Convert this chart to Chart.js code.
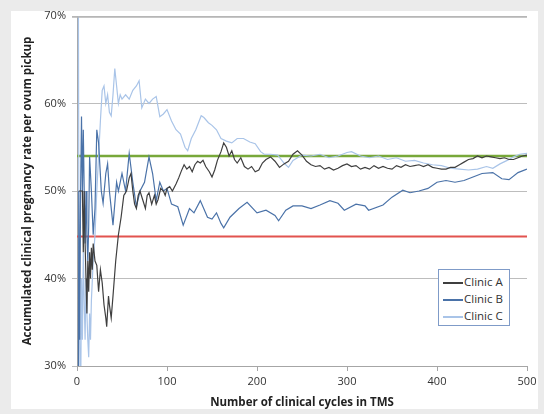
<!DOCTYPE html>
<html>
<head>
<meta charset="utf-8">
<script src="https://cdn.jsdelivr.net/npm/chart.js@4"></script>
<style>
  html, body { margin: 0; padding: 0; background: #ebebeb; }
  #frame { position: absolute; left: 11px; top: 11px; width: 527px; height: 398px; background: #fff; }
  #wrap { position: absolute; left: 0; top: 0; width: 544px; height: 414px; }
  #legend {
    position: absolute; left: 438px; top: 269px; width: 72px; height: 57px;
    border: 1px solid #7f9bc8; background: #fff; box-sizing: border-box;
    font-family: "Open Sans", sans-serif; font-size: 11.5px; color: #333;
    padding-top: 3px;
  }
  #legend div { height: 17px; line-height: 17px; white-space: nowrap; }
  #legend span.line { display: inline-block; width: 20px; height: 0; vertical-align: middle; margin: 0 1px 0 4px; }
</style>
</head>
<body>
<div id="frame"></div>
<div id="wrap"><canvas id="chart" width="544" height="414"></canvas></div>
<div id="legend"></div>
<script>
const seriesLabels = ['Clinic A', 'Clinic B', 'Clinic C'];
const seriesColors = ['#3f3f3f', '#4a72a8', '#a9c4e8'];

const clinicACycles = [2,4,6,7,8,9,10,11,12,13,14,15,16,17,18,20,22,24,26,28,30,32,33,35,36,38,40,43,46,49,52,55,58,60,62,64,66,68,70,73,76,78,80,83,86,88,90,93,96,98,100,103,106,110,113,116,119,122,125,128,131,134,137,140,143,147,150,153,156,160,163,166,169,172,175,178,182,186,190,194,198,202,206,210,215,220,225,230,235,240,245,250,255,260,265,270,275,280,285,290,295,300,305,310,315,320,325,330,335,340,345,350,355,360,365,370,375,380,385,390,395,400,405,410,415,420,425,430,435,440,445,450,455,460,465,470,475,480,485,490,495,500];
const clinicARate = [50,50,50,43,50,44,40,36,42,38.5,43,40,43.5,41,44,42,41.5,38.5,41,39.5,37,35.5,34.5,38,37,35.5,38,42,45,47,49.5,50,51.5,52,50,48.5,48,49.5,50,49,48,49.5,49.8,48.5,49.5,48.5,49,50.3,50,49.5,50.3,50.5,50,50.8,51.5,52.3,53,52.5,52.8,52.2,53,53.4,53.2,53.5,52.8,52.2,51.6,52.4,53.5,54.5,55.5,55,54,54.6,53.6,53.2,53.8,52.8,52.5,52.8,52.2,52.4,53.2,53.6,53.9,53.4,52.7,53.1,53.4,54.2,54.6,54.1,53.4,53,52.8,52.9,52.5,52.7,52.4,52.6,52.9,53.1,52.8,52.9,52.5,52.7,52.5,52.9,52.6,52.8,52.6,52.5,52.9,52.7,53,52.8,52.9,53,52.8,53,52.7,52.6,52.5,52.5,52.7,52.7,53,53.3,53.6,53.7,54,53.8,54,53.9,53.8,53.7,53.8,53.6,53.6,53.8,54,54.1];

const clinicBCycles = [1,2,3,4,5,6,7,8,9,10,11,12,13,14,16,18,20,22,24,27,29,32,34,36,40,44,46,50,54,58,62,66,70,75,80,84,88,92,96,100,105,112,118,125,130,137,145,150,155,160,163,170,180,189,200,210,220,224,232,240,250,260,270,281,290,297,310,320,324,340,350,362,370,380,390,400,410,420,430,440,450,462,472,480,490,500];
const clinicBRate = [0,50,33,50,58.5,50,57,50,44,50,45,42,46,53.9,50,45,48,57,55.5,50,48.6,52,53.1,50,46.1,51,50,52,50,54.3,51,48.2,50,51,53.9,52,48.9,51,50,50.3,48.5,48.2,46.1,48,47.5,48.9,47,46.8,47.5,46.3,45.8,47,48,48.7,47.5,47.8,47.2,46.6,47.8,48.3,48.3,48,48.4,48.9,48.6,47.8,48.5,48.3,47.8,48.4,49.3,50.1,49.8,50,50.3,51,51.2,51,51.2,51.6,52,52.1,51.4,51.3,52.1,52.5];

const clinicCCycles = [1,2,3,4,5,6,7,8,9,10,11,12,13,14,15,16,18,20,22,24,26,28,30,32,34,36,38,40,42,44,46,48,50,54,58,62,66,69,72,76,80,84,88,92,96,100,105,110,115,120,123,127,132,138,141,146,150,155,160,166,172,178,185,192,198,204,208,215,223,230,235,240,245,250,260,270,280,290,300,305,315,325,335,345,355,365,375,385,395,405,415,425,435,445,455,462,470,478,485,492,500];
const clinicCRate = [100,50,33,25,40,33,43,37.5,33,40,36,33,31,36,33,37.5,42,45,50,54,58,61.5,62,60,61,59,58.6,61,64,62,60,61,60.5,61,60.5,61.5,62,62.6,59.5,60.5,60,60.5,60.8,58.5,58.8,59.3,58,57,56.5,55,54.6,56,57,58.6,58.4,57.8,57.5,57,56,55.7,55.5,56,56,55.6,55.4,54.5,54.2,54.2,54.1,53.2,52.7,53.5,53.8,54.1,54,54.2,53.8,54,54.4,54.5,54,53.8,54,53.6,53.8,53.4,53.5,53.2,53,52.9,52.6,52.5,52.4,52.5,52.8,52.6,53.1,53.5,53.9,54.2,54.3];

const targetRate = 54;
const thresholdRate = 44.8;
const xRange = [0, 500];

const xTickStep = 100;
const yTicks = [30, 40, 50, 60, 70];

function pairs(xs, ys) {
  return xs.map((x, i) => ({ x: x, y: ys[i] }));
}

const clinicData = [
  pairs(clinicACycles, clinicARate),
  pairs(clinicBCycles, clinicBRate),
  pairs(clinicCCycles, clinicCRate)
];

const datasets = clinicData.map((d, i) => ({
  label: seriesLabels[i],
  data: d,
  borderColor: seriesColors[i],
  borderWidth: 1.2,
  pointRadius: 0,
  tension: 0,
  fill: false
}));

datasets.push({
  label: 'target',
  data: [{ x: xRange[0], y: targetRate }, { x: xRange[1], y: targetRate }],
  borderColor: '#78a83a',
  borderWidth: 2.5,
  pointRadius: 0
});
datasets.push({
  label: 'threshold',
  data: [{ x: xRange[0], y: thresholdRate }, { x: xRange[1], y: thresholdRate }],
  borderColor: '#e2534f',
  borderWidth: 2,
  pointRadius: 0
});

const gridColor = '#bdbdbd';
const tickFont = { family: '"Open Sans", sans-serif', size: 11 };
const titleFont = { family: '"Open Sans", sans-serif', size: 11.5, weight: 'bold' };

// the top (70%) gridline sits on the chart edge, draw it explicitly
const topGridline = {
  id: 'topGridline',
  afterDraw(chart) {
    const y = chart.scales.y;
    const py = Math.round(y.getPixelForValue(y.max)) + 1;
    const c = chart.ctx;
    c.save();
    c.strokeStyle = '#b4b4b4';
    c.lineWidth = 1.5;
    c.beginPath();
    c.moveTo(chart.chartArea.left - 5, py);
    c.lineTo(chart.chartArea.right, py);
    c.stroke();
    c.restore();
  }
};

const chart = new Chart(document.getElementById('chart'), {
  type: 'line',
  data: { datasets: datasets },
  plugins: [topGridline],
  options: {
    responsive: false,
    animation: false,
    devicePixelRatio: 1,
    layout: { padding: { left: 21, top: 16, right: 17, bottom: 4 } },
    plugins: {
      legend: { display: false },
      tooltip: { enabled: false }
    },
    scales: {
      x: {
        type: 'linear',
        min: xRange[0],
        max: xRange[1],
        afterFit: s => { s.height = 44; },
        ticks: { stepSize: xTickStep, color: '#333', font: tickFont, padding: 4 },
        grid: { drawOnChartArea: false, color: '#a6a6a6', tickLength: 5 },
        border: { color: '#a6a6a6' },
        title: {
          display: true,
          text: 'Number of clinical cycles in TMS',
          color: '#222',
          font: titleFont,
          padding: { top: 0, bottom: 0 }
        }
      },
      y: {
        min: yTicks[0],
        max: yTicks[yTicks.length - 1],
        afterFit: s => { s.width = 56; },
        afterBuildTicks: s => { s.ticks = yTicks.map(v => ({ value: v })); },
        ticks: { color: '#333', font: tickFont, padding: 6, callback: v => v + '%' },
        grid: { color: gridColor, lineWidth: 1, tickLength: 5 },
        border: { color: '#a6a6a6' },
        title: {
          display: true,
          text: 'Accumulated clinical pregnancy rate per ovum pickup',
          color: '#222',
          font: titleFont,
          padding: { top: 0, bottom: 0 }
        }
      }
    }
  }
});

// legend box inside the plot, built from the chart's own datasets
const legendEl = document.getElementById('legend');
chart.data.datasets.slice(0, seriesLabels.length).forEach(ds => {
  const row = document.createElement('div');
  const line = document.createElement('span');
  line.className = 'line';
  line.style.borderTop = '2px solid ' + ds.borderColor;
  row.appendChild(line);
  row.appendChild(document.createTextNode(ds.label));
  legendEl.appendChild(row);
});
</script>
</body>
</html>
